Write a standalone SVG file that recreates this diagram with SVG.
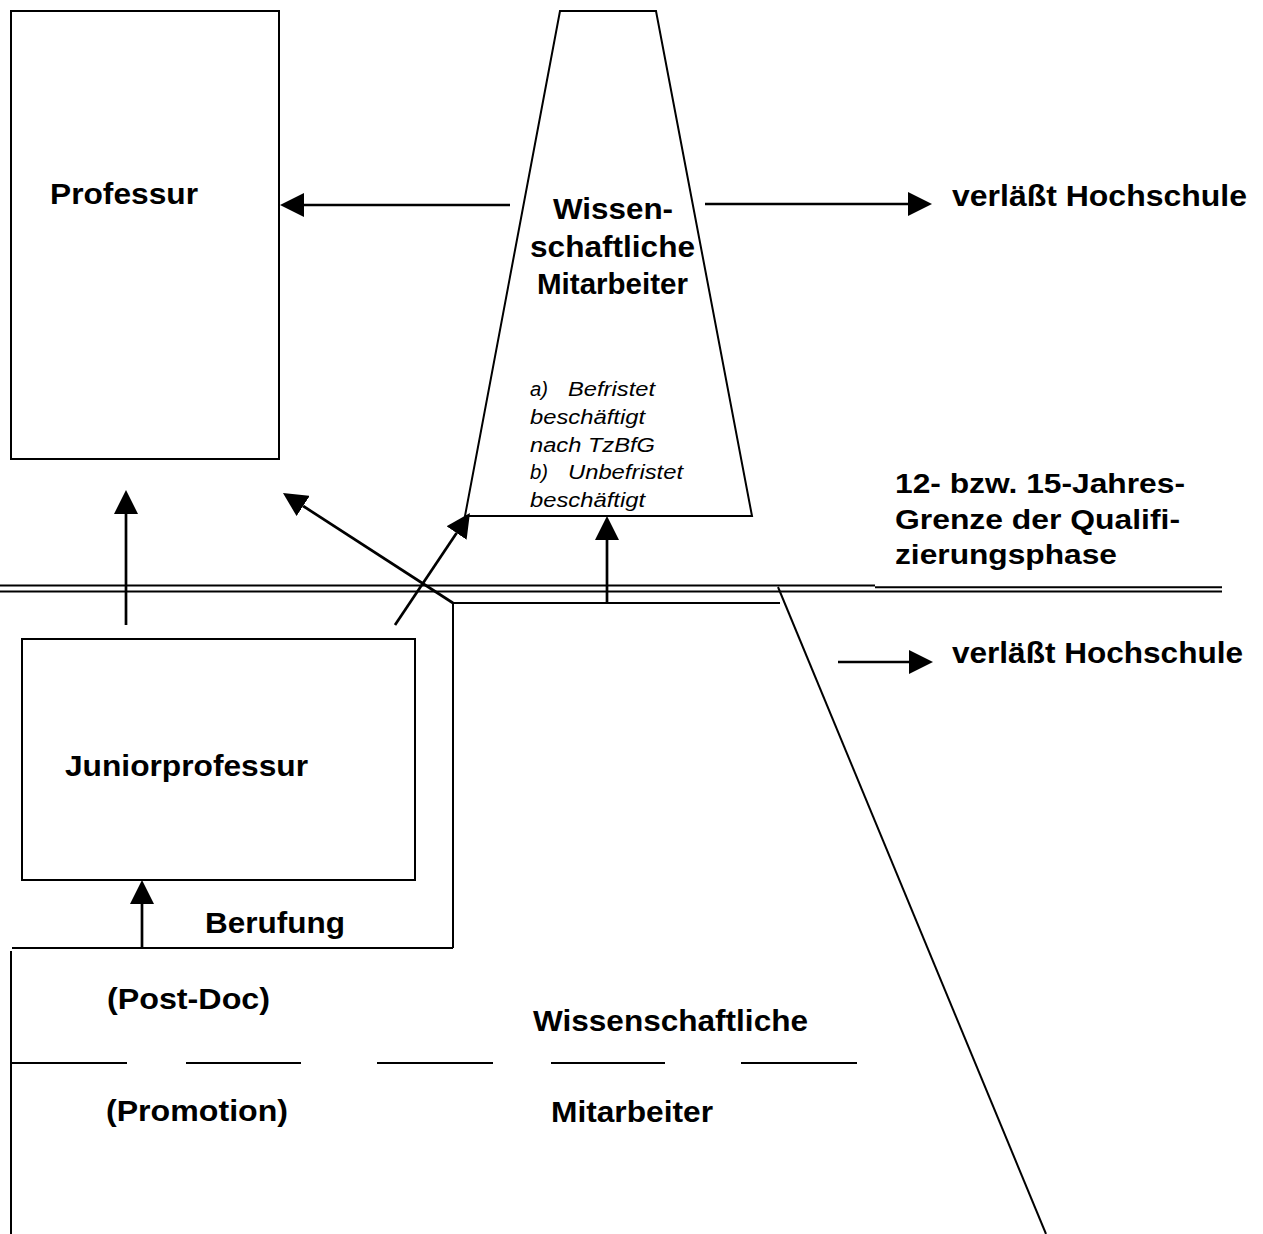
<svg xmlns="http://www.w3.org/2000/svg" width="1263" height="1234" viewBox="0 0 1263 1234">
<style>
.b{font-family:"Liberation Sans",Arial,sans-serif;font-weight:bold;font-size:30px;fill:#000}
.s{font-family:"Liberation Sans",Arial,sans-serif;font-weight:bold;font-size:28px;fill:#000}
.i{font-family:"Liberation Sans",Arial,sans-serif;font-style:italic;font-size:20px;fill:#000}
.box{fill:none;stroke:#000;stroke-width:2}
.ln{fill:none;stroke:#000;stroke-width:2}
.ar{fill:none;stroke:#000;stroke-width:2.7}
</style>
<defs>
<marker id="ah" viewBox="0 -12 24 24" markerWidth="24" markerHeight="24" refX="0" refY="0" markerUnits="userSpaceOnUse" orient="auto">
<path d="M0,-12 L24,0 L0,12 z" fill="#000"/>
</marker>
</defs>
<rect width="1263" height="1234" fill="#fff"/>
<g id="professur">
<rect class="box" x="11" y="11" width="268" height="448"/>
<text class="b" x="50" y="204" textLength="148" lengthAdjust="spacingAndGlyphs">Professur</text>
</g>
<g id="wiss-mitarbeiter-oben">
<polygon class="box" stroke-width="1.7" points="560,11 656,11 752,516 465,516"/>
<text class="b" x="553" y="219" textLength="120" lengthAdjust="spacingAndGlyphs">Wissen-</text>
<text class="b" x="530" y="257" textLength="165" lengthAdjust="spacingAndGlyphs">schaftliche</text>
<text class="b" x="537" y="294" textLength="151" lengthAdjust="spacingAndGlyphs">Mitarbeiter</text>
<text class="i" x="530" y="396" textLength="18" lengthAdjust="spacingAndGlyphs">a)</text>
<text class="i" x="568" y="396" textLength="87" lengthAdjust="spacingAndGlyphs">Befristet</text>
<text class="i" x="530" y="424" textLength="115" lengthAdjust="spacingAndGlyphs">beschäftigt</text>
<text class="i" x="530" y="452" textLength="125" lengthAdjust="spacingAndGlyphs">nach TzBfG</text>
<text class="i" x="530" y="479" textLength="18" lengthAdjust="spacingAndGlyphs">b)</text>
<text class="i" x="568" y="479" textLength="115" lengthAdjust="spacingAndGlyphs">Unbefristet</text>
<text class="i" x="530" y="507" textLength="115" lengthAdjust="spacingAndGlyphs">beschäftigt</text>
</g>
<g id="verlaesst-oben">
<text class="b" x="952" y="206" textLength="295" lengthAdjust="spacingAndGlyphs">verläßt Hochschule</text>
</g>
<g id="verlaesst-unten">
<text class="b" x="952" y="663" textLength="291" lengthAdjust="spacingAndGlyphs">verläßt Hochschule</text>
</g>
<g id="grenze">
<text class="s" x="895" y="493" textLength="290" lengthAdjust="spacingAndGlyphs">12- bzw. 15-Jahres-</text>
<text class="s" x="895" y="529" textLength="285" lengthAdjust="spacingAndGlyphs">Grenze der Qualifi-</text>
<text class="s" x="895" y="564" textLength="222" lengthAdjust="spacingAndGlyphs">zierungsphase</text>
<line class="ln" x1="0" y1="585.5" x2="875" y2="585.5"/>
<line class="ln" stroke-width="1.4" x1="875" y1="587.3" x2="1222" y2="587.3"/>
<line class="ln" x1="0" y1="591.5" x2="1222" y2="591.5"/>
</g>
<g id="juniorprofessur">
<rect class="box" x="22" y="639" width="393" height="241"/>
<text class="b" x="65" y="776" textLength="243" lengthAdjust="spacingAndGlyphs">Juniorprofessur</text>
</g>
<g id="berufung">
<text class="b" x="205" y="933" textLength="140" lengthAdjust="spacingAndGlyphs">Berufung</text>
</g>
<g id="wiss-mitarbeiter-unten">
<line class="ln" x1="11" y1="951" x2="11" y2="1234"/>
<line class="ln" x1="12" y1="948" x2="453" y2="948"/>
<line class="ln" x1="453" y1="948" x2="453" y2="603"/>
<line class="ln" x1="453" y1="603" x2="780" y2="603"/>
<line class="ln" stroke-width="1.7" x1="778" y1="587" x2="1046" y2="1234"/>
<text class="b" x="107" y="1009" textLength="163" lengthAdjust="spacingAndGlyphs">(Post-Doc)</text>
<text class="b" x="533" y="1031" textLength="275" lengthAdjust="spacingAndGlyphs">Wissenschaftliche</text>
<text class="b" x="106" y="1121" textLength="182" lengthAdjust="spacingAndGlyphs">(Promotion)</text>
<text class="b" x="551" y="1122" textLength="162" lengthAdjust="spacingAndGlyphs">Mitarbeiter</text>
<g class="ln" stroke-width="1.5">
<line x1="11" y1="1063" x2="127" y2="1063"/>
<line x1="186" y1="1063" x2="301" y2="1063"/>
<line x1="377" y1="1063" x2="493" y2="1063"/>
<line x1="551" y1="1063" x2="665" y2="1063"/>
<line x1="741" y1="1063" x2="857" y2="1063"/>
</g>
</g>
<g id="connectors">
<line class="ar" x1="510" y1="205" x2="304" y2="205" marker-end="url(#ah)"/>
<line class="ar" x1="705" y1="204" x2="908" y2="204" marker-end="url(#ah)"/>
<line class="ar" x1="838" y1="662" x2="909" y2="662" marker-end="url(#ah)"/>
<line class="ar" x1="126" y1="625" x2="126" y2="514" marker-end="url(#ah)"/>
<line class="ar" x1="453" y1="603" x2="303.1" y2="506" marker-end="url(#ah)"/>
<line class="ar" x1="395" y1="625" x2="456.6" y2="533" marker-end="url(#ah)"/>
<line class="ar" x1="607" y1="603" x2="607" y2="540" marker-end="url(#ah)"/>
<line class="ar" x1="142" y1="948" x2="142" y2="904" marker-end="url(#ah)"/>
</g>
</svg>
